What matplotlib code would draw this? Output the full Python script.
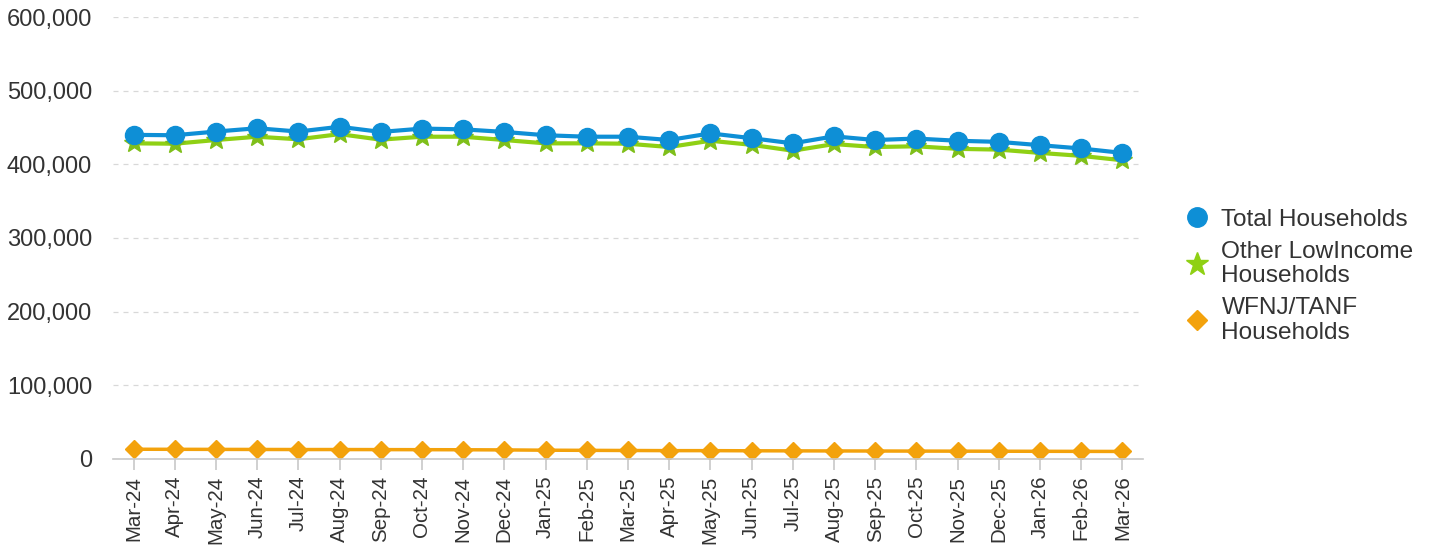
import matplotlib.pyplot as plt
from matplotlib.lines import Line2D
import numpy as np

months = ['Mar-24', 'Apr-24', 'May-24', 'Jun-24', 'Jul-24', 'Aug-24', 'Sep-24', 'Oct-24',
          'Nov-24', 'Dec-24', 'Jan-25', 'Feb-25', 'Mar-25', 'Apr-25', 'May-25', 'Jun-25',
          'Jul-25', 'Aug-25', 'Sep-25', 'Oct-25', 'Nov-25', 'Dec-25', 'Jan-26', 'Feb-26', 'Mar-26']

total = [440000, 439500, 444500, 449000, 444500, 451000, 444000, 448500, 447500, 444000,
         439500, 437500, 437500, 433000, 442000, 435500, 428500, 438000, 433000, 435000,
         432000, 430500, 426000, 421500, 415500]

other = [428500, 428000, 433000, 437500, 434000, 441000, 433500, 437500, 437500, 433000,
         428500, 428500, 428000, 423500, 432000, 426500, 418500, 427500, 423500, 424500,
         421000, 420000, 415500, 411500, 405500]

tanf = [13200, 13100, 13000, 12900, 12800, 12800, 12700, 12600, 12500, 12300,
        11900, 11700, 11500, 11300, 11300, 11100, 11000, 10900, 10800, 10700,
        10600, 10500, 10400, 10300, 10200]

labels = ['Total Households', 'Other LowIncome\nHouseholds', 'WFNJ/TANF\nHouseholds']

blue = '#0e8fd6'
green = '#8fd014'
green_dark = '#7fbf1a'
orange = '#f3a20c'

plt.rcParams['font.family'] = ['Liberation Sans', 'DejaVu Sans']

fig = plt.figure(figsize=(14.35, 5.49), dpi=100)
ax = fig.add_axes([0.0787, 0.164, 0.7178, 0.805])

x = np.arange(len(months))
ax.plot(x, total, '-o', color=blue, lw=3, ms=13, zorder=3)
ax.plot(x, other, '-*', color=green, mfc=green_dark, mec=green_dark, lw=3, ms=15, zorder=2)
ax.plot(x, tanf, '-D', color=orange, lw=2.5, ms=9, zorder=2)

ax.set_xlim(-0.5, len(months) - 0.5)
ax.set_ylim(0, 600000)
ax.set_yticks(np.arange(0, 600001, 100000))
ax.set_yticklabels(['{:,}'.format(v) for v in range(0, 600001, 100000)])
ax.set_xticks(x)
ax.set_xticklabels(months, rotation=90)

ax.grid(axis='y', color='#d8d8d8', ls=(0, (4, 4)), lw=0.9)
ax.set_axisbelow(True)
for s in ['top', 'right', 'left']:
    ax.spines[s].set_visible(False)
ax.spines['bottom'].set_color('#c8c8c8')
ax.spines['bottom'].set_linewidth(1.2)
ax.tick_params(axis='y', length=0, pad=15, labelsize=17, labelcolor='#333333')
ax.tick_params(axis='x', length=8, color='#c8c8c8', width=1.2, pad=4, labelsize=14.8,
               labelcolor='#333333')

handles = [Line2D([], [], ls='none', marker='o', ms=14, color=blue),
           Line2D([], [], ls='none', marker='*', ms=17, color=green),
           Line2D([], [], ls='none', marker='D', ms=10, color=orange)]
leg = fig.legend(handles, labels, loc='center left', bbox_to_anchor=(0.8265, 0.497),
                 bbox_transform=fig.transFigure, frameon=False, fontsize=17.6,
                 borderpad=0, borderaxespad=0, handletextpad=0.55, labelspacing=0.42,
                 handlelength=0.9, labelcolor='#333333')
for t in leg.get_texts():
    t.set_linespacing(1.12)

fig.savefig('out.png')
